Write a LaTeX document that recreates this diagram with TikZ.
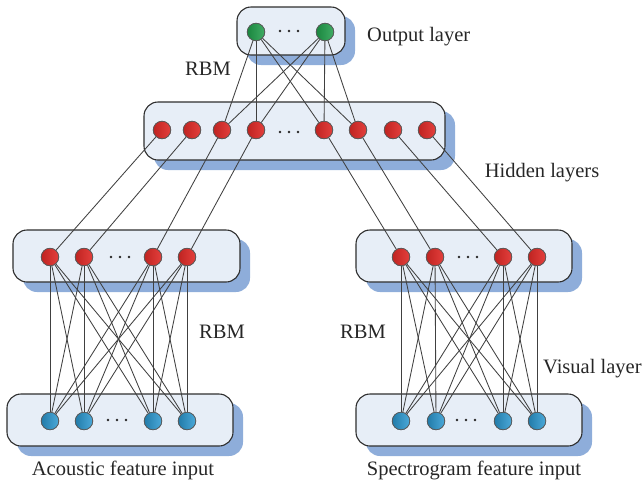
\documentclass[tikz,border=0pt]{standalone}
\usepackage{fontspec}
\setmainfont{Liberation Serif}
\definecolor{boxfill}{HTML}{E7EEF7}
\definecolor{boxshade}{HTML}{8EADDA}
\definecolor{unitred}{HTML}{E12A27}
\definecolor{unitgreen}{HTML}{1F9E4A}
\definecolor{unitblue}{HTML}{2B9AD3}
\definecolor{wire}{HTML}{404040}
\definecolor{rim}{HTML}{2E2E2E}
\newcommand\dotrow[2]{%
  \foreach \dx in {-9,0,9}{\fill[black!85] (#1+\dx,#2) circle (1.3);}}
\tikzset{
  layerbox/.style={draw=rim, line width=1.1pt, fill=boxfill, rounded corners=14pt},
  layershade/.style={fill=boxshade, rounded corners=14pt},
  unit/.style={circle, draw=black!65, line width=0.7pt, minimum size=17.5pt, inner sep=0pt},
  redunit/.style={unit, left color=unitred!85!black, right color=unitred!90!white},
  greenunit/.style={unit, left color=unitgreen!85!black, right color=unitgreen!85!white},
  blueunit/.style={unit, left color=unitblue!80!black, right color=unitblue!85!white},
  link/.style={draw=wire, line width=0.85pt},
  lbl/.style={font=\fontsize{20.5}{22}\selectfont, text=black!85, inner sep=0pt}
}
\begin{document}
\begin{tikzpicture}[x=1pt,y=-1pt]
\useasboundingbox (0,0) rectangle (642,488);

% layer boxes with offset shadows
\foreach \xa/\ya/\xb/\yb in {237/7/345/55, 144/102/445/160, 13/230/240/282, 356/230/572/282, 7/394/233/446, 356/394/582/446}{
  \fill[layershade] (\xa+10,\ya+9) rectangle (\xb+10,\yb+10);
  \draw[layerbox] (\xa,\ya) rectangle (\xb,\yb);
}

% output units
\node[greenunit] (o1) at (256,32) {};
\node[greenunit] (o2) at (325,32) {};
\dotrow{289}{31}

% hidden units
\foreach \i/\x in {1/162,2/192,3/222,4/256,5/324,6/358,7/393,8/427}
  \node[redunit] (h\i) at (\x,130) {};
\dotrow{289}{132}

% acoustic branch
\foreach \i/\x in {1/50,2/84,3/153,4/187}{
  \node[redunit] (a\i) at (\x,257) {};
  \node[blueunit] (c\i) at (\x,421) {};
}
\dotrow{120}{257}
\dotrow{117}{420}

% spectrogram branch
\foreach \i/\x/\xx in {1/401/401,2/435/436,3/503/503,4/537/537}{
  \node[redunit] (b\i) at (\x,257) {};
  \node[blueunit] (d\i) at (\xx,421) {};
}
\dotrow{468}{257}
\dotrow{466}{420}

% connections
\foreach \j in {3,4,5,6}{
  \draw[link] (o1) -- (h\j);
  \draw[link] (o2) -- (h\j);
}
\foreach \i in {1,2,3,4}{
  \draw[link] (h\i) -- (a\i);
}
\foreach \i/\j in {5/1,6/2,7/3,8/4}{
  \draw[link] (h\i) -- (b\j);
}
\foreach \i in {1,2,3,4}{
  \foreach \j in {1,2,3,4}{
    \draw[link] (a\i) -- (c\j);
    \draw[link] (b\i) -- (d\j);
  }
}

% redraw units above the wires
\node[greenunit] at (o1) {};
\node[greenunit] at (o2) {};
\foreach \i in {1,...,8} \node[redunit] at (h\i) {};
\foreach \i in {1,...,4}{
  \node[redunit] at (a\i) {};
  \node[redunit] at (b\i) {};
  \node[blueunit] at (c\i) {};
  \node[blueunit] at (d\i) {};
}

% labels
\node[lbl, anchor=west] (tout) at (367,37) {Output layer};
\node[lbl] (trbm1) at (208,69) {RBM};
\node[lbl] (thid) at (542,173) {Hidden layers};
\node[lbl] (trbm2) at (222,332) {RBM};
\node[lbl] (trbm3) at (363,332) {RBM};
\node[lbl, anchor=west] (tvis) at (543,369) {Visual layer};
\node[lbl] (tin1) at (123,470) {Acoustic feature input};
\node[lbl] (tin2) at (474,470) {Spectrogram feature input};
\end{tikzpicture}
\end{document}
